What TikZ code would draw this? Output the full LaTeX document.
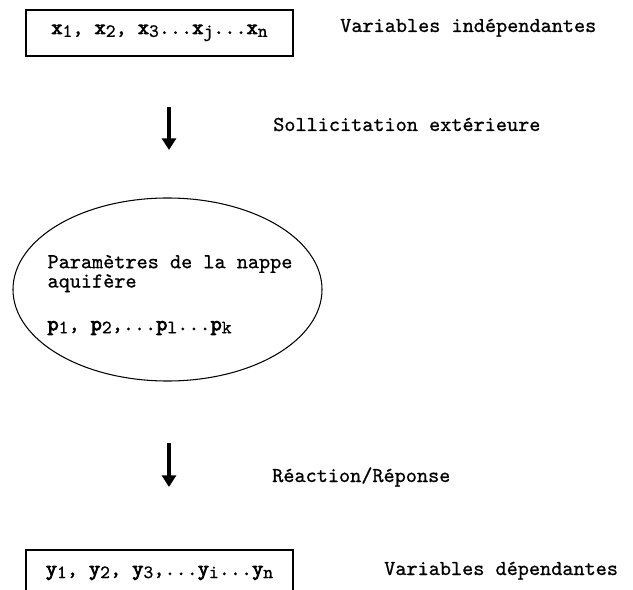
\documentclass[tikz,border=0pt]{standalone}
\usepackage{fontspec}
\setmonofont{lmmono10-regular.otf}[UprightFeatures={FakeBold=0.8},
   BoldFont=lmmono10-regular.otf, BoldFeatures={FakeBold=3.5}]
\usetikzlibrary{shapes.geometric,arrows.meta}

\newcommand\vsub[2]{\textbf{#1}\raisebox{-2.5pt}{\fontsize{16pt}{16pt}\selectfont #2}}
\lineskiplimit=-20pt

\begin{document}
\begin{tikzpicture}[x=0.03cm,y=-0.03cm,
   txt/.style={font=\fontsize{18.1pt}{16.5pt}\selectfont\ttfamily, inner sep=0pt},
   varbox/.style={txt, draw, line width=1.4pt, minimum width=8.01cm, minimum height=1.38cm},
   flow/.style={line width=3.2pt, -{Triangle[width=12pt,length=10pt]}}]
   \useasboundingbox (0,0) rectangle (633,590);
   \clip (0,0) rectangle (633,590);
   % variables
   \node[varbox] (xvars) at (159.5,33)
      {\vsub{x}{1}, \vsub{x}{2}, \vsub{x}{3}...\vsub{x}{j}...\vsub{x}{n}};
   \node[varbox] (yvars) at (159.5,573)
      {\vsub{y}{1}, \vsub{y}{2}, \vsub{y}{3},...\vsub{y}{i}...\vsub{y}{n}};
   \node[txt, anchor=base west] (indep) at (340,32) {Variables indépendantes};
   \node[txt, anchor=base west] (dep) at (384,575) {Variables dépendantes};
   % la nappe
   \node[draw, ellipse, line width=0.9pt, minimum width=9.27cm,
         minimum height=5.49cm] (nappe) at (167.5,289.5) {};
   \node[txt, align=left] (param) at (170,295)
      {Paramètres de la nappe\\aquifère\\[20pt]\vsub{p}{1}, \vsub{p}{2},...\vsub{p}{l}...\vsub{p}{k}};
   % fleches
   \coordinate (s1) at (169,107);
   \coordinate (e1) at (169,150);
   \coordinate (s2) at (169,443);
   \coordinate (e2) at (169,487);
   \draw[flow] (s1) -- (e1);
   \node[txt, anchor=base west] (sollic) at (273,131) {Sollicitation extérieure};
   \draw[flow] (s2) -- (e2);
   \node[txt, anchor=base west] (react) at (272,482) {Réaction/Réponse};
\end{tikzpicture}
\end{document}
